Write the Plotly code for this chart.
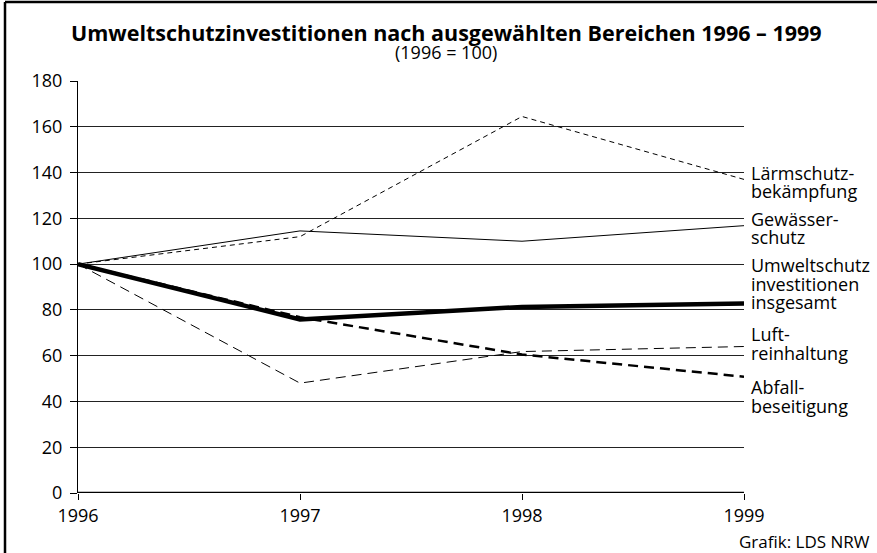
import plotly.graph_objects as go

years = [1996, 1997, 1998, 1999]
laerm = [100, 112, 164.5, 137]
gewaesser = [100, 114.5, 110, 116.8]
insgesamt = [100, 75.8, 81.3, 82.8]
luft = [100, 48, 61.8, 64]
abfall = [100, 76.8, 60.5, 50.8]

label_lines = [
    ("Lärmschutz-", 139.8),
    ("bekämpfung", 131.9),
    ("Gewässer-", 119.7),
    ("schutz", 111.8),
    ("Umweltschutz", 99.6),
    ("investitionen", 91.3),
    ("insgesamt", 83.4),
    ("Luft-", 69.5),
    ("reinhaltung", 61.2),
    ("Abfall-", 46.3),
    ("beseitigung", 38.0),
]

FONT = "Open Sans"
fig = go.Figure()
fig.add_trace(go.Scatter(x=years, y=laerm, mode="lines",
                         line=dict(color="black", width=1, dash="5px,4px")))
fig.add_trace(go.Scatter(x=years, y=gewaesser, mode="lines",
                         line=dict(color="black", width=1)))
fig.add_trace(go.Scatter(x=years, y=luft, mode="lines",
                         line=dict(color="black", width=1, dash="10px,6px")))
fig.add_trace(go.Scatter(x=years, y=abfall, mode="lines",
                         line=dict(color="black", width=2.5, dash="10px,6px")))
fig.add_trace(go.Scatter(x=years, y=insgesamt, mode="lines",
                         line=dict(color="black", width=4.5)))

for txt, yv in label_lines:
    fig.add_annotation(x=1, xref="paper", xanchor="left", xshift=5,
                       y=yv, yref="y", yanchor="middle", text=txt,
                       showarrow=False, align="left",
                       font=dict(family=FONT, size=18, color="black"))

fig.add_annotation(x=0.553, xref="paper", y=1, yref="paper", yanchor="middle", yshift=49,
                   text="<b>Umweltschutzinvestitionen nach ausgewählten Bereichen 1996 – 1999</b>",
                   showarrow=False, font=dict(family=FONT, size=21.5, color="black"))
fig.add_annotation(x=0.553, xref="paper", y=1, yref="paper", yanchor="middle", yshift=29,
                   text="(1996 = 100)", showarrow=False,
                   font=dict(family=FONT, size=18, color="black"))
fig.add_annotation(x=1, xref="paper", xshift=128, xanchor="right", y=0, yref="paper",
                   yanchor="middle", yshift=-48, text="Grafik: LDS NRW", showarrow=False,
                   font=dict(family=FONT, size=17, color="black"))

# frame
fig.add_shape(type="line", xref="paper", yref="paper", x0=-0.1096, x1=-0.1096,
              y0=-0.2, y1=1.192, line=dict(color="black", width=2.5))
fig.add_shape(type="line", xref="paper", yref="paper", x0=-0.1096, x1=1.25,
              y0=1.192, y1=1.192, line=dict(color="black", width=2.5))
# thick baseline
fig.add_shape(type="line", xref="paper", yref="y", x0=0, x1=1, y0=0, y1=0,
              line=dict(color="black", width=2.5))

fig.update_layout(
    width=877, height=553,
    margin=dict(l=78, r=133, t=81, b=60),
    paper_bgcolor="white", plot_bgcolor="white",
    showlegend=False,
    font=dict(family=FONT, size=18, color="black"),
    xaxis=dict(range=[1996, 1999], tickvals=years, ticktext=[str(y) for y in years],
               showgrid=False, zeroline=False, showline=False,
               ticks="outside", ticklen=6, tickcolor="black", tickwidth=1,
               tickfont=dict(family=FONT, size=18)),
    yaxis=dict(range=[0, 180], tickvals=list(range(0, 181, 20)),
               showgrid=True, gridcolor="#222", gridwidth=1, zeroline=False,
               showline=True, linecolor="black", linewidth=1,
               ticks="outside", ticklen=7, tickcolor="black", tickwidth=1,
               ticklabelstandoff=4,
               tickfont=dict(family=FONT, size=18)),
)

fig.write_html("out.html", config={"displayModeBar": False},
               post_script="document.body.style.margin='0';")
